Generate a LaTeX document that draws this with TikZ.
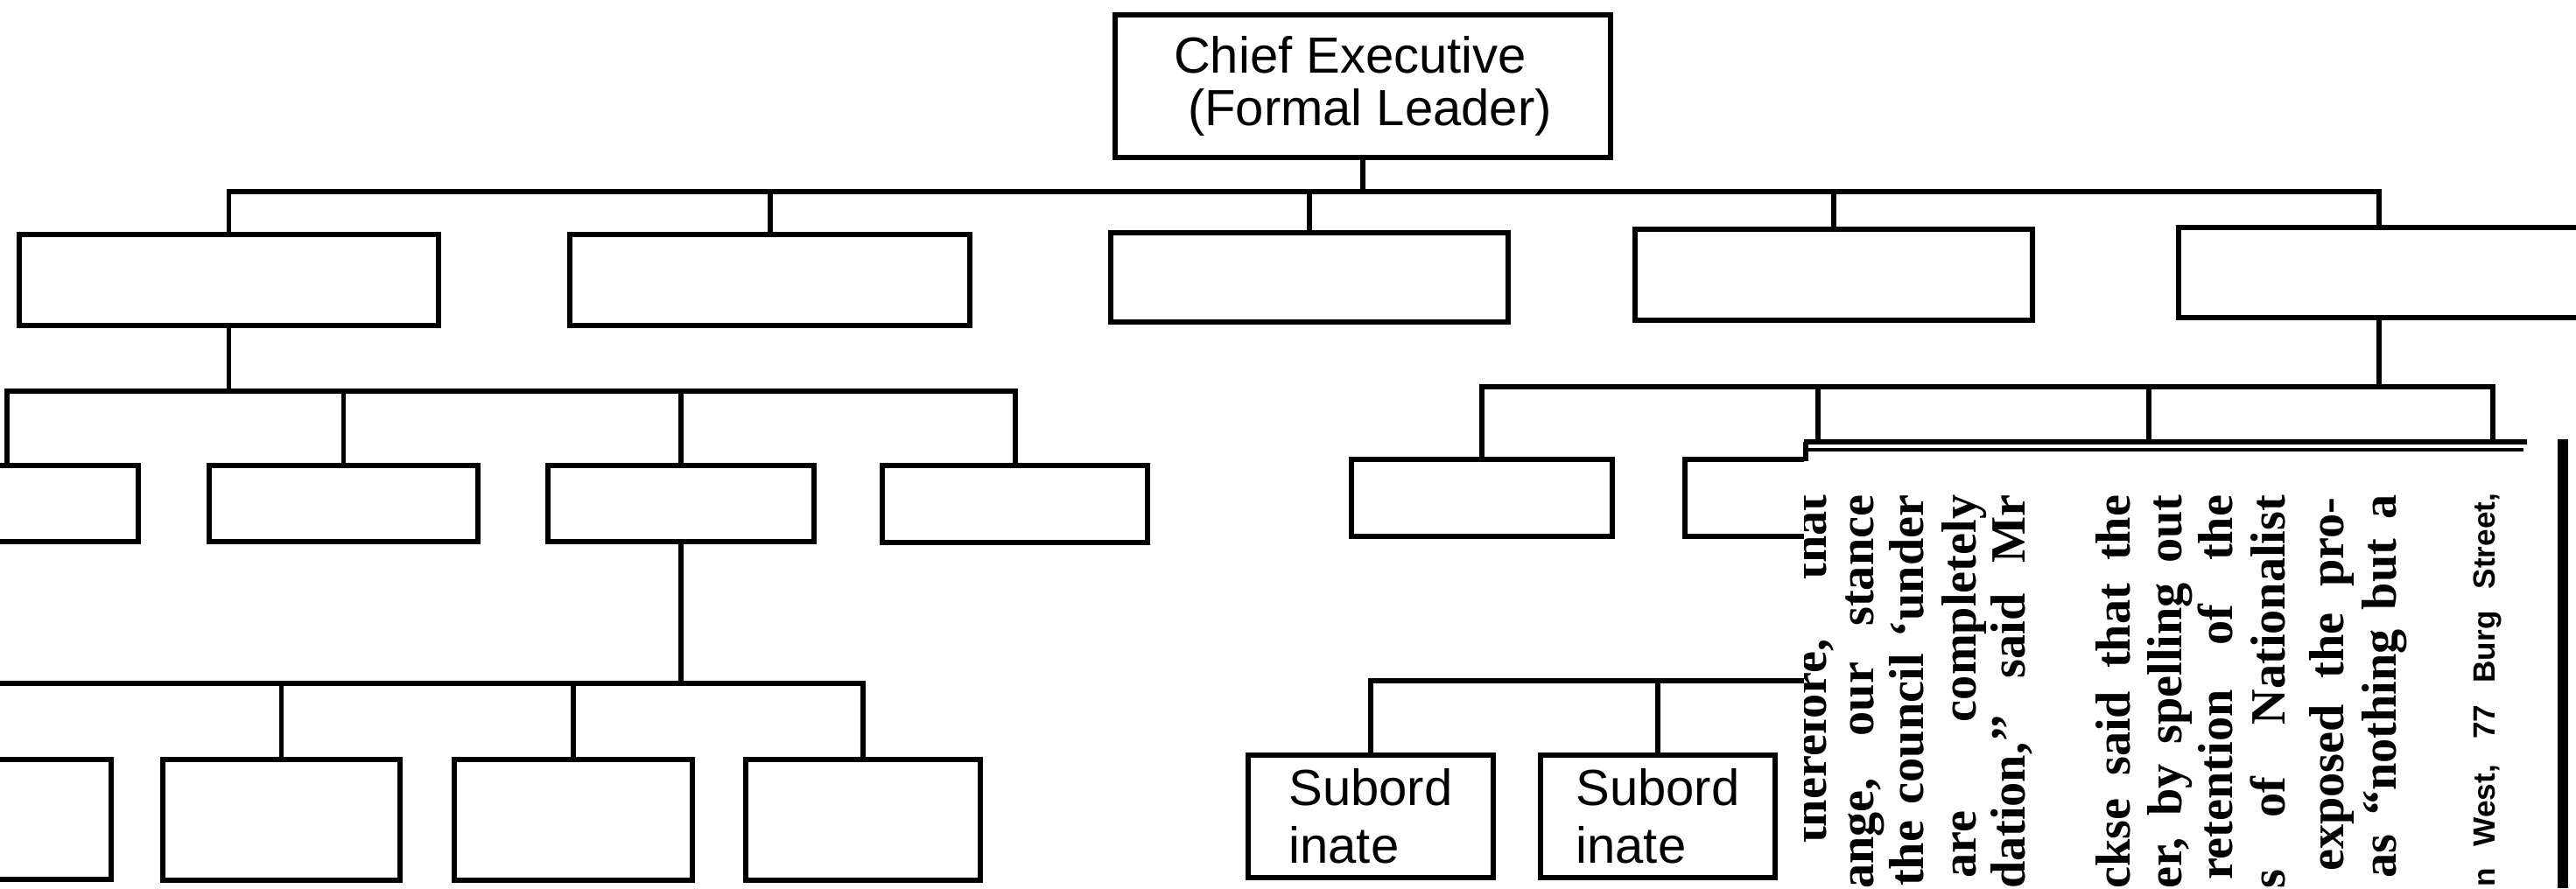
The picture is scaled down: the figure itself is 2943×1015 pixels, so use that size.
\documentclass[tikz,border=0pt]{standalone}
\usepackage{fontspec}
\newfontfamily\orgfont{Liberation Sans}
\newfontfamily\newsfont{Liberation Serif}
\newfontfamily\addrfont{Liberation Sans}
\begin{document}
\begin{tikzpicture}[x=0.01cm,y=-0.01cm,
  orgline/.style={line width=1.7pt},
  orgbox/.style={draw, line width=1.7pt, rectangle, inner sep=0pt},
  orgtext/.style={font=\orgfont\fontsize{16.5}{17}\selectfont, align=left},
  subtext/.style={font=\orgfont\fontsize{16.5}{18.7}\selectfont, align=left},
  newsline/.style={rotate=90, anchor=base east, inner sep=0pt, font=\newsfont\bfseries\fontsize{16}{16}\selectfont},
  addrline/.style={rotate=90, anchor=base east, inner sep=0pt, font=\addrfont\bfseries\fontsize{10}{10}\selectfont}]
\fill[white] (0,0) rectangle (2943,1015);
\useasboundingbox (0,0) rectangle (2943,1015);
\clip (0,0) rectangle (2943,1015);

% ---- boxes ----
\node[orgbox, minimum width=5.66cm, minimum height=1.63cm, orgtext] (chief) at (1557,98.5)
  {Chief Executive\\\hspace*{0.16cm}(Formal Leader)};

\node[orgbox, minimum width=4.79cm, minimum height=1.04cm] (b1) at (261.5,320) {};
\node[orgbox, minimum width=4.57cm, minimum height=1.04cm] (b2) at (879.5,320) {};
\node[orgbox, minimum width=4.53cm, minimum height=1.02cm] (b3) at (1496,317) {};
\node[orgbox, minimum width=4.53cm, minimum height=1.04cm] (b4) at (2095,314) {};
\node[orgbox, minimum width=4.58cm, minimum height=1.03cm] (b5) at (2718,311.5) {};

\node[orgbox, minimum width=3.00cm, minimum height=0.87cm] (la) at (8,575.5) {};
\node[orgbox, minimum width=3.07cm, minimum height=0.87cm] (lb) at (392.5,575.5) {};
\node[orgbox, minimum width=3.04cm, minimum height=0.87cm] (lc) at (778,575.5) {};
\node[orgbox, minimum width=3.03cm, minimum height=0.87cm] (ld) at (1159.5,576) {};

\node[orgbox, minimum width=2.72cm, minimum height=1.37cm] (ma) at (-9,936.5) {};
\node[orgbox, minimum width=2.71cm, minimum height=1.37cm] (mb) at (321.5,937) {};
\node[orgbox, minimum width=2.72cm, minimum height=1.37cm] (mc) at (655,937) {};
\node[orgbox, minimum width=2.68cm, minimum height=1.37cm] (md) at (986,937) {};

\node[orgbox, minimum width=2.98cm, minimum height=0.88cm] (re) at (1693,569) {};
\node[orgbox, minimum width=3.04cm, minimum height=0.88cm] (rf) at (2077,569) {};

\node[orgbox, minimum width=2.80cm, minimum height=1.40cm, subtext] (s1) at (1566,933) {Subord\\inate};
\node[orgbox, minimum width=2.68cm, minimum height=1.40cm, subtext] (s2) at (1894,933) {Subord\\inate};

% ---- connectors ----
\coordinate (busA) at (1564,219);
\draw[orgline] (chief.south) -- (chief.south |- busA);
\draw[orgline] (b1.north) -- (b1.north |- busA) -- (b5.north |- busA) -- (b5.north);
\foreach \n in {b2,b3,b4} \draw[orgline] (\n.north) -- (\n.north |- busA);

\coordinate (busB) at (0,447);
\draw[orgline] (b1.south) -- (b1.south |- busB);
\draw[orgline] (la.north) -- (la.north |- busB) -- (ld.north |- busB) -- (ld.north);
\foreach \n in {lb,lc} \draw[orgline] (\n.north) -- (\n.north |- busB);

\coordinate (busC) at (0,781);
\draw[orgline] (lc.south) -- (lc.south |- busC);
\draw[orgline] (ma.north) -- (ma.north |- busC) -- (md.north |- busC) -- (md.north);
\foreach \n in {mb,mc} \draw[orgline] (\n.north) -- (\n.north |- busC);

\coordinate (busD) at (0,442);
\coordinate (gEnd) at (2455,505);
\coordinate (hEnd) at (2848,505);
\draw[orgline] (b5.south) -- (b5.south |- busD);
\draw[orgline] (re.north) -- (re.north |- busD) -- (hEnd |- busD) -- (hEnd);
\draw[orgline] (rf.north) -- (rf.north |- busD);
\draw[orgline] (gEnd) -- (gEnd |- busD);

\coordinate (busE) at (0,778);
\draw[orgline] (rf.south) -- (rf.south |- busE) -- (s1.north |- busE) -- (s1.north);
\draw[orgline] (s2.north) -- (s2.north |- busE);

% ---- newspaper clipping laid over the chart ----
\fill[white] (2061,505) rectangle (2936,1020);
\draw[orgline] (2061,505) -- (2887,505);
\draw[line width=1.2pt] (2063,514) -- (2883,514);
\draw[orgline] (2063,505) -- (2063,527);
\draw[line width=3.5pt] (2928,502) -- (2928,1015);

\begin{scope}
\clip (2061,505) rectangle (2935,1015);
\node[newsline] (c1) at (2086,565) {\makebox[3.98cm][s]{therefore, that}};
\node[newsline] (c2) at (2140,565) {\makebox[4.50cm][s]{ange, our stance}};
\node[newsline] (c3) at (2197,565) {\makebox[4.47cm][s]{the council ‘under}};
\node[newsline] (c4) at (2257,565) {\makebox[4.38cm][s]{are completely}};
\node[newsline] (c5) at (2313,565) {\makebox[4.50cm][s]{dation,’’ said Mr}};
\node[newsline] (c6) at (2433,565) {\makebox[4.50cm][s]{ckse said that the}};
\node[newsline] (c7) at (2492,565) {\makebox[4.50cm][s]{er, by spelling out}};
\node[newsline] (c8) at (2550,565) {\makebox[4.40cm][s]{retention of the}};
\node[newsline] (c9) at (2610,565) {\makebox[4.50cm][s]{s of Nationalist}};
\node[newsline] (c10) at (2677,568) {\makebox[4.27cm][s]{exposed the pro-}};
\node[newsline] (c11) at (2737,565) {\makebox[4.38cm][s]{as “nothing but a}};
\node[addrline] (c12) at (2850,563) {\makebox[4.50cm][s]{n West, 77 Burg Street,}};
\end{scope}
\end{tikzpicture}
\end{document}
